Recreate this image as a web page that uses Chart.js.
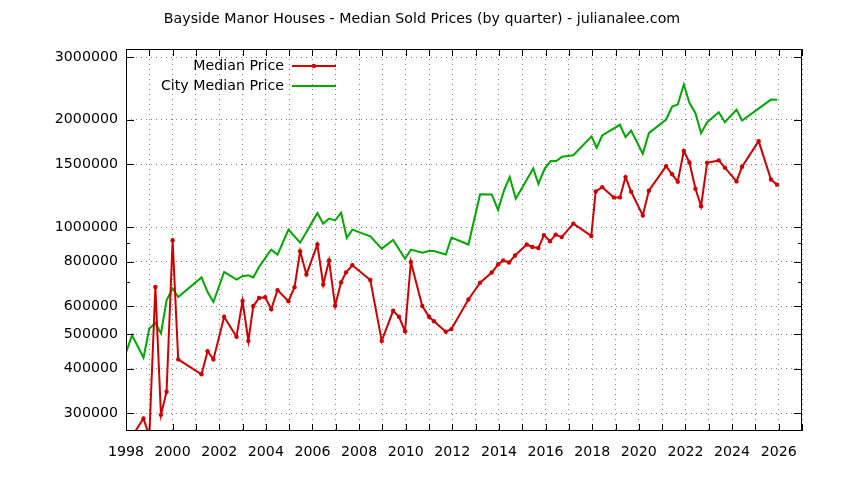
<!DOCTYPE html>
<html>
<head>
<meta charset="utf-8">
<script src="https://cdn.jsdelivr.net/npm/chart.js@4.4.1/dist/chart.umd.min.js"></script>
<style>
  html, body { margin: 0; padding: 0; background: #fff; }
  #chart { display: block; }
</style>
</head>
<body>
<canvas id="chart" width="844" height="480"></canvas>
<script>
// Median Price (Bayside Manor), quarterly
const medianYears = [1998.25, 1998.75, 1999.0, 1999.26, 1999.5, 1999.74, 2000.0, 2000.24,
  2001.24, 2001.5, 2001.75, 2002.21, 2002.74, 2003.0, 2003.25, 2003.46, 2003.71, 2003.97,
  2004.23, 2004.5, 2004.97, 2005.23, 2005.47, 2005.74, 2006.21, 2006.46, 2006.71, 2006.97,
  2007.23, 2007.44, 2007.71, 2008.48, 2008.97, 2009.46, 2009.71, 2009.97, 2010.22, 2010.71,
  2011.0, 2011.21, 2011.72, 2011.96, 2012.69, 2013.19, 2013.69, 2013.97, 2014.18, 2014.43,
  2014.69, 2015.19, 2015.43, 2015.69, 2015.93, 2016.19, 2016.43, 2016.69, 2017.19, 2017.96,
  2018.15, 2018.43, 2018.93, 2019.19, 2019.43, 2019.67, 2020.17, 2020.43, 2021.17, 2021.43,
  2021.67, 2021.93, 2022.17, 2022.43, 2022.67, 2022.93, 2023.43, 2023.69, 2024.19, 2024.43,
  2025.14, 2025.67, 2025.93];
const medianPrices = [258000, 290000, 259000, 679000, 297000, 345000, 918000, 425000,
  386000, 448000, 425000, 560000, 492000, 620000, 479000, 600000, 632000, 635000,
  588000, 665000, 619000, 678000, 855000, 736000, 893000, 690000, 806000, 601000,
  700000, 746000, 781000, 710000, 479000, 582000, 560000, 510000, 798000, 600000,
  560000, 544000, 508000, 517000, 626000, 698000, 745000, 786000, 806000, 795000,
  832000, 893000, 879000, 873000, 949000, 912000, 952000, 937000, 1022000, 944000,
  1259000, 1294000, 1211000, 1211000, 1381000, 1256000, 1078000, 1264000, 1481000, 1406000,
  1341000, 1635000, 1518000, 1281000, 1144000, 1515000, 1538000, 1468000, 1343000, 1476000,
  1742000, 1359000, 1315000];

// City Median Price
const cityYears = [1998.0, 1998.26, 1998.75, 1999.0, 1999.26, 1999.5, 1999.74, 2000.0, 2000.24,
  2001.24, 2001.5, 2001.75, 2002.21, 2002.74, 2003.0, 2003.25, 2003.46, 2003.71, 2004.23,
  2004.5, 2004.97, 2005.47, 2005.74, 2006.21, 2006.46, 2006.71, 2006.97, 2007.23, 2007.47,
  2007.71, 2008.48, 2008.97, 2009.46, 2009.97, 2010.22, 2010.71, 2011.0, 2011.21, 2011.72,
  2011.96, 2012.69, 2013.19, 2013.69, 2013.96, 2014.21, 2014.46, 2014.72, 2015.21, 2015.47,
  2015.69, 2015.97, 2016.22, 2016.46, 2016.71, 2017.19, 2017.97, 2018.19, 2018.43, 2019.19,
  2019.43, 2019.67, 2020.17, 2020.43, 2021.17, 2021.43, 2021.67, 2021.93, 2022.17, 2022.43,
  2022.67, 2022.93, 2023.43, 2023.69, 2024.19, 2024.43, 2025.67, 2025.93];
const cityPrices = [444000, 497000, 430000, 519000, 538000, 503000, 623000, 672000, 636000,
  722000, 657000, 616000, 748000, 712000, 728000, 732000, 722000, 774000, 864000,
  837000, 983000, 904000, 968000, 1094000, 1022000, 1056000, 1044000, 1097000, 931000,
  983000, 942000, 870000, 920000, 815000, 864000, 847000, 856000, 856000, 837000,
  934000, 893000, 1235000, 1234000, 1117000, 1263000, 1381000, 1201000, 1365000, 1460000,
  1321000, 1462000, 1531000, 1531000, 1575000, 1590000, 1796000, 1669000, 1807000, 1936000,
  1787000, 1866000, 1606000, 1834000, 2003000, 2179000, 2207000, 2511000, 2232000, 2087000,
  1834000, 1969000, 2100000, 1969000, 2133000, 1991000, 2279000, 2275000];

const yTicks = [300000, 400000, 500000, 600000, 800000, 1000000, 1500000, 2000000, 3000000];
const yMinorTicks = [700000, 900000];
const seriesNames = ['Median Price', 'City Median Price'];

const RED = '#d00000';
const GREEN = '#00a800';
const FONT = 'DejaVu Sans';

// gnuplot-style frame, inward tick marks and the key
const framePlugin = {
  id: 'frame',
  afterDraw(chart) {
    const { ctx, chartArea: a, scales } = chart;
    const xs = scales.x, ys = scales.y;
    ctx.save();
    ctx.strokeStyle = '#000';
    ctx.lineWidth = 1;
    ctx.strokeRect(a.left + 0.5, a.top + 0.5, a.right - a.left - 1, a.bottom - a.top - 1);
    ctx.beginPath();
    for (let yr = 1998; yr <= 2027; yr++) {
      const px = Math.round(xs.getPixelForValue(yr)) + 0.5;
      ctx.moveTo(px, a.bottom); ctx.lineTo(px, a.bottom - 7);
      ctx.moveTo(px, a.top); ctx.lineTo(px, a.top + 7);
    }
    yTicks.forEach(v => {
      const py = Math.round(ys.getPixelForValue(v)) + 0.5;
      ctx.moveTo(a.left, py); ctx.lineTo(a.left + 8, py);
      ctx.moveTo(a.right, py); ctx.lineTo(a.right - 8, py);
    });
    yMinorTicks.forEach(v => {
      const py = Math.round(ys.getPixelForValue(v)) + 0.5;
      ctx.moveTo(a.left, py); ctx.lineTo(a.left + 4, py);
      ctx.moveTo(a.right, py); ctx.lineTo(a.right - 4, py);
    });
    ctx.stroke();

    // key
    ctx.font = '14.2px "' + FONT + '"';
    ctx.textAlign = 'right';
    ctx.textBaseline = 'middle';
    ctx.fillStyle = '#000';
    const keyColors = [RED, GREEN];
    seriesNames.forEach((name, i) => {
      const y = 66 + i * 20;
      ctx.fillText(name, 284, y);
      ctx.strokeStyle = keyColors[i];
      ctx.lineWidth = 2;
      ctx.beginPath();
      ctx.moveTo(292, y); ctx.lineTo(336, y);
      ctx.stroke();
      if (i === 0) {
        ctx.fillStyle = RED;
        ctx.beginPath();
        ctx.arc(314, y, 2.2, 0, Math.PI * 2);
        ctx.fill();
        ctx.fillStyle = '#000';
      }
    });
    ctx.restore();
  }
};

const toPoints = (xs, ys) => xs.map((x, i) => ({ x: x, y: ys[i] }));

new Chart(document.getElementById('chart'), {
  type: 'line',
  data: {
    datasets: [
      {
        label: seriesNames[0],
        data: toPoints(medianYears, medianPrices),
        borderColor: RED,
        backgroundColor: RED,
        borderWidth: 2,
        pointRadius: 2.2,
        pointBorderWidth: 0,
        pointBackgroundColor: RED,
        tension: 0,
        clip: 0
      },
      {
        label: seriesNames[1],
        data: toPoints(cityYears, cityPrices),
        borderColor: GREEN,
        backgroundColor: GREEN,
        borderWidth: 2,
        pointRadius: 0,
        tension: 0,
        clip: 0
      }
    ]
  },
  options: {
    responsive: false,
    animation: false,
    devicePixelRatio: 1,
    layout: { padding: 0 },
    plugins: {
      legend: { display: false },
      tooltip: { enabled: false },
      title: {
        display: true,
        text: 'Bayside Manor Houses - Median Sold Prices (by quarter) - julianalee.com',
        color: '#000',
        font: { family: FONT, size: 14.2, weight: 'normal', lineHeight: 1.2 },
        padding: { top: 11, bottom: 20.96 }
      }
    },
    scales: {
      x: {
        type: 'linear',
        min: 1998,
        max: 2027,
        border: { display: false, dash: [1, 4] },
        grid: { color: '#808080', lineWidth: 1, drawTicks: false },
        ticks: {
          stepSize: 1,
          autoSkip: false,
          maxRotation: 0,
          padding: 13,
          color: '#000',
          font: { family: FONT, size: 14.2 },
          callback: v => (v % 2 === 0 ? String(v) : '')
        },
        afterFit: s => { s.height = 49; }
      },
      y: {
        type: 'logarithmic',
        min: 267600,
        max: 3160000,
        border: { display: false, dash: [1, 4] },
        grid: { color: '#808080', lineWidth: 1, drawTicks: false },
        ticks: {
          padding: 8,
          color: '#000',
          font: { family: FONT, size: 14.2 },
          callback: v => String(v)
        },
        afterBuildTicks: s => { s.ticks = yTicks.map(v => ({ value: v })); },
        afterFit: s => { s.width = 126; }
      },
      y2: {
        type: 'logarithmic',
        position: 'right',
        min: 267600,
        max: 3160000,
        border: { display: false },
        grid: { display: false, drawTicks: false },
        ticks: { display: false },
        afterFit: s => { s.width = 42; }
      }
    }
  },
  plugins: [framePlugin]
});
</script>
</body>
</html>
